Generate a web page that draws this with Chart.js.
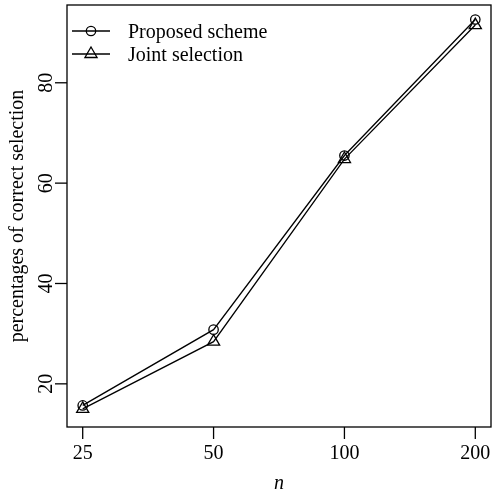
<!DOCTYPE html>
<html><head><meta charset="utf-8">
<script src="https://cdn.jsdelivr.net/npm/chart.js@4/dist/chart.umd.min.js"></script>
<style>html,body{margin:0;padding:0;background:#fff}#wrap{width:492px;height:498px}</style>
</head><body><div id="wrap"><canvas id="c" width="492" height="498"></canvas></div>
<script>
const categories = ['25', '50', '100', '200'];
const proposedScheme = [15.7, 30.8, 65.5, 92.6];
const jointSelection = [15.0, 28.4, 64.8, 91.5];
const yTicks = [20, 40, 60, 80];
const seriesNames = ['Proposed scheme', 'Joint selection'];
const xTitle = 'n';
const yTitle = 'percentages of correct selection';

const FONT = '"Liberation Serif", "DejaVu Serif", serif';
const toXY = arr => arr.map((v, i) => ({x: i, y: v}));

const rPlot = {
  id: 'rPlot',
  afterDraw(chart) {
    const {ctx, chartArea: a, scales: {x, y}} = chart;
    ctx.save();
    ctx.strokeStyle = '#000';
    ctx.fillStyle = '#000';
    ctx.lineWidth = 1.3;
    // box
    ctx.strokeRect(a.left, a.top, a.right - a.left, a.bottom - a.top);
    // x ticks
    ctx.font = '20px ' + FONT;
    ctx.textAlign = 'center';
    ctx.textBaseline = 'alphabetic';
    categories.forEach((c, i) => {
      const px = x.getPixelForValue(i);
      ctx.beginPath(); ctx.moveTo(px, a.bottom); ctx.lineTo(px, a.bottom + 12); ctx.stroke();
      ctx.fillText(c, px, a.bottom + 32);
    });
    // y ticks
    yTicks.forEach(t => {
      const py = y.getPixelForValue(t);
      ctx.beginPath(); ctx.moveTo(a.left, py); ctx.lineTo(a.left - 12, py); ctx.stroke();
      ctx.save();
      ctx.translate(a.left - 15, py);
      ctx.rotate(-Math.PI / 2);
      ctx.fillText(String(t), 0, 0);
      ctx.restore();
    });
    // titles
    ctx.font = 'italic 20px ' + FONT;
    ctx.fillText(xTitle, (a.left + a.right) / 2, a.bottom + 62);
    ctx.font = '20px ' + FONT;
    ctx.save();
    ctx.translate(23, (a.top + a.bottom) / 2);
    ctx.rotate(-Math.PI / 2);
    ctx.fillText(yTitle, 0, 0);
    ctx.restore();
    // legend
    const ly = [a.top + 26, a.top + 49];
    ctx.textAlign = 'left';
    seriesNames.forEach((name, i) => {
      const yy = ly[i];
      ctx.beginPath(); ctx.moveTo(a.left + 5, yy); ctx.lineTo(a.left + 43, yy); ctx.stroke();
      const cx = a.left + 24;
      ctx.beginPath();
      if (i === 0) {
        ctx.arc(cx, yy, 4.7, 0, Math.PI * 2);
      } else {
        const r = 7;
        for (let k = 0; k < 3; k++) {
          const ang = k * 2 * Math.PI / 3;
          const px = cx + Math.sin(ang) * r, py = yy - Math.cos(ang) * r;
          k ? ctx.lineTo(px, py) : ctx.moveTo(px, py);
        }
        ctx.closePath();
      }
      ctx.stroke();
      ctx.fillText(name, a.left + 61, yy + 6.5);
    });
    ctx.restore();
  }
};

new Chart(document.getElementById('c'), {
  type: 'line',
  data: {
    datasets: [
      {label: seriesNames[0], data: toXY(proposedScheme), borderColor: '#000', borderWidth: 1.3,
       pointStyle: 'circle', pointRadius: 4.7, pointBorderWidth: 1.3, pointBackgroundColor: 'rgba(0,0,0,0)', pointBorderColor: '#000', tension: 0},
      {label: seriesNames[1], data: toXY(jointSelection), borderColor: '#000', borderWidth: 1.3,
       pointStyle: 'triangle', pointRadius: 7, pointBorderWidth: 1.3, pointBackgroundColor: 'rgba(0,0,0,0)', pointBorderColor: '#000', tension: 0}
    ]
  },
  options: {
    responsive: false,
    animation: false,
    devicePixelRatio: 1,
    layout: {autoPadding: false, padding: {left: 67, top: 5, right: 1, bottom: 71}},
    plugins: {legend: {display: false}, tooltip: {enabled: false}},
    scales: {
      x: {type: 'linear', min: -0.12, max: 3.12, display: false},
      y: {type: 'linear', min: 11.4, max: 95.5, display: false}
    }
  },
  plugins: [rPlot]
});
</script></body></html>
